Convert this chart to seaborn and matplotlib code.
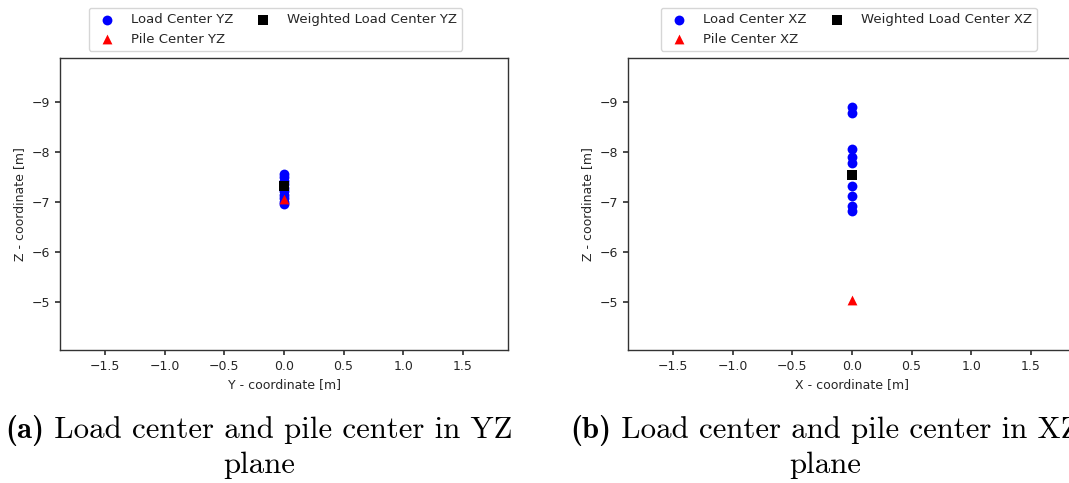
import matplotlib
matplotlib.use("Agg")
import matplotlib.pyplot as plt
import seaborn as sns

# ---- data ----
yz_load_z = [-7.57, -7.50, -7.43, -7.36, -7.29, -7.22, -7.15, -7.08, -7.01, -6.97]
yz_load_y = [0.0] * len(yz_load_z)
yz_weighted_z = [-7.33]
yz_weighted_y = [0.0]
yz_pile_z = [-7.06]
yz_pile_y = [0.0]

xz_load_z = [-8.91, -8.79, -8.05, -7.91, -7.78, -7.33, -7.13, -6.93, -6.83]
xz_load_x = [0.0] * len(xz_load_z)
xz_weighted_z = [-7.54]
xz_weighted_x = [0.0]
xz_pile_z = [-5.05]
xz_pile_x = [0.0]

xticks = [-1.5, -1.0, -0.5, 0.0, 0.5, 1.0, 1.5]
yticks = [-9, -8, -7, -6, -5]

cap_tags = ["(a)", "(b)"]
cap_line1 = ["Load center and pile center in YZ", "Load center and pile center in XZ"]
cap_line2 = ["plane", "plane"]

sns.set_theme(style="ticks", rc={
    "axes.edgecolor": "#333333",
    "axes.linewidth": 1.0,
    "xtick.color": "#333333",
    "ytick.color": "#333333",
    "xtick.major.size": 3.5,
    "ytick.major.size": 3.5,
})
plt.rcParams["font.family"] = ["DejaVu Sans"]

W, H = 1069, 483
fig = plt.figure(figsize=(W / 100, H / 100), dpi=100)

ax_w = 448 / W
ax_h = 292 / H
ax_b = (H - 350) / H
ax1 = fig.add_axes([60 / W, ax_b, ax_w, ax_h])
ax2 = fig.add_axes([628 / W, ax_b, ax_w, ax_h])

fs = 9
ms = 50

def draw(ax, lx, lz, px, pz, wx, wz, tag, xlabel, legx):
    sns.scatterplot(x=lx, y=lz, ax=ax, color="blue", marker="o", s=ms,
                    linewidth=0, label=f"Load Center {tag}")
    sns.scatterplot(x=px, y=pz, ax=ax, color="red", marker="^", s=ms,
                    linewidth=0, label=f"Pile Center {tag}")
    sns.scatterplot(x=wx, y=wz, ax=ax, color="black", marker="s", s=ms,
                    linewidth=0, label=f"Weighted Load Center {tag}")
    ax.set_xlim(-1.88, 1.88)
    ax.set_ylim(-4.04, -9.88)
    ax.set_xticks(xticks)
    ax.set_yticks(yticks)
    ax.tick_params(labelsize=fs, labelcolor="#262626")
    ax.set_xlabel(xlabel, fontsize=fs, color="#262626")
    ax.set_ylabel("Z - coordinate [m]", fontsize=fs, color="#262626")
    handles, labels = ax.get_legend_handles_labels()
    ax.legend(handles, labels, ncol=2, loc="lower center",
              bbox_to_anchor=(legx, 1.0 + 7 / 292), borderaxespad=0,
              fontsize=9.5, frameon=True, framealpha=0.8, edgecolor="#cccccc",
              scatterpoints=1, columnspacing=1.3)

draw(ax1, yz_load_y, yz_load_z, yz_pile_y, yz_pile_z, yz_weighted_y, yz_weighted_z,
     "YZ", "Y - coordinate [m]", 0.481)
draw(ax2, xz_load_x, xz_load_z, xz_pile_x, xz_pile_z, xz_weighted_x, xz_weighted_z,
     "XZ", "X - coordinate [m]", 0.493)

# ---- captions ----
cfs = 22.2
renderer = fig.canvas.get_renderer()
for cx, tag, l1, l2 in zip([259, 825], cap_tags, cap_line1, cap_line2):
    t_tag = fig.text(0, (H - 437.5) / H, tag, family="cmb10", fontsize=cfs,
                     ha="left", va="baseline", color="black")
    t_rest = fig.text(0, (H - 437.5) / H, " " + l1, family="cmr10", fontsize=cfs,
                      ha="left", va="baseline", color="black")
    w_tag = t_tag.get_window_extent(renderer).width
    w_rest = t_rest.get_window_extent(renderer).width
    x0 = cx - (w_tag + w_rest) / 2
    t_tag.set_x(x0 / W)
    t_rest.set_x((x0 + w_tag) / W)
    fig.text(cx / W, (H - 473) / H, l2, family="cmr10", fontsize=cfs,
             ha="center", va="baseline", color="black")

fig.savefig("out.png", dpi=100)
